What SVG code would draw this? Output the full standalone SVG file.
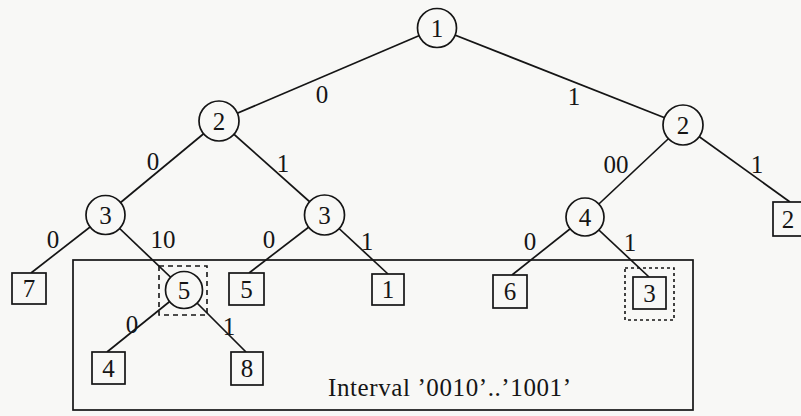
<svg xmlns="http://www.w3.org/2000/svg" width="801" height="416" viewBox="0 0 801 416">
  <style>
    .edge { stroke: #151515; stroke-width: 1.7; fill: none; }
    .inner { fill: #f8f8f6; stroke: #151515; stroke-width: 1.7; }
    .leaf { fill: #f8f8f6; stroke: #151515; stroke-width: 1.7; }
    .mark-dash { fill: none; stroke: #151515; stroke-width: 1.6; stroke-dasharray: 5 4; }
    .mark-dot { fill: none; stroke: #151515; stroke-width: 1.6; stroke-dasharray: 3 3; }
    .frame { fill: none; stroke: #151515; stroke-width: 1.7; }
    .num { font-family: "Liberation Serif", "DejaVu Serif", serif; font-size: 25px; fill: #151515; text-anchor: middle; }
    .lbl { font-family: "Liberation Serif", "DejaVu Serif", serif; font-size: 25px; fill: #151515; text-anchor: middle; }
    .cap { font-family: "Liberation Serif", "DejaVu Serif", serif; font-size: 25px; fill: #151515; }
  </style>

  <rect x="0" y="0" width="801" height="416" fill="#f8f8f6"/>

  <!-- interval frame -->
  <g id="interval">
    <rect class="frame" x="73" y="260" width="620" height="150"/>
    <text class="cap" x="328" y="396" textLength="243" lengthAdjust="spacing">Interval ’0010’..’1001’</text>
  </g>

  <!-- connectors with their bit labels -->
  <g id="connectors">
    <line class="edge" x1="437" y1="28" x2="219" y2="121"/>
    <line class="edge" x1="437" y1="28" x2="683" y2="125"/>
    <line class="edge" x1="219" y1="121" x2="105.5" y2="215"/>
    <line class="edge" x1="219" y1="121" x2="324.5" y2="215"/>
    <line class="edge" x1="683" y1="125" x2="585" y2="217"/>
    <line class="edge" x1="683" y1="125" x2="790" y2="202"/>
    <line class="edge" x1="105.5" y1="215" x2="31" y2="273"/>
    <line class="edge" x1="105.5" y1="215" x2="184" y2="290"/>
    <line class="edge" x1="324.5" y1="215" x2="249" y2="273"/>
    <line class="edge" x1="324.5" y1="215" x2="388" y2="274"/>
    <line class="edge" x1="585" y1="217" x2="512" y2="275"/>
    <line class="edge" x1="585" y1="217" x2="649" y2="277"/>
    <line class="edge" x1="184" y1="290" x2="107" y2="352"/>
    <line class="edge" x1="184" y1="290" x2="246" y2="352"/>

    <text class="lbl" x="322" y="103">0</text>
    <text class="lbl" x="574" y="105">1</text>
    <text class="lbl" x="153" y="170">0</text>
    <text class="lbl" x="283" y="172">1</text>
    <text class="lbl" x="616" y="173">00</text>
    <text class="lbl" x="757" y="173">1</text>
    <text class="lbl" x="53" y="248">0</text>
    <text class="lbl" x="163" y="248">10</text>
    <text class="lbl" x="269" y="248">0</text>
    <text class="lbl" x="367" y="250">1</text>
    <text class="lbl" x="530" y="250">0</text>
    <text class="lbl" x="630" y="251">1</text>
    <text class="lbl" x="132" y="333">0</text>
    <text class="lbl" x="229" y="335">1</text>
  </g>

  <!-- inner (branching) nodes -->
  <g id="n-root">
    <circle class="inner" cx="437" cy="28" r="19.5"/>
    <text class="num" x="437" y="37">1</text>
  </g>
  <g id="n-0">
    <circle class="inner" cx="219" cy="121" r="20"/>
    <text class="num" x="219" y="130">2</text>
  </g>
  <g id="n-1">
    <circle class="inner" cx="683" cy="125" r="20"/>
    <text class="num" x="683" y="134">2</text>
  </g>
  <g id="n-00">
    <circle class="inner" cx="105.5" cy="215" r="19.5"/>
    <text class="num" x="105.5" y="224">3</text>
  </g>
  <g id="n-01">
    <circle class="inner" cx="324.5" cy="215" r="20"/>
    <text class="num" x="324.5" y="224">3</text>
  </g>
  <g id="n-100">
    <circle class="inner" cx="585" cy="217" r="19"/>
    <text class="num" x="585" y="226">4</text>
  </g>
  <g id="n-0010">
    <rect class="mark-dash" x="159" y="266" width="48" height="49"/>
    <circle class="inner" cx="184" cy="290" r="18.5"/>
    <text class="num" x="184" y="299">5</text>
  </g>

  <!-- leaves -->
  <g id="leaf-7">
    <rect class="leaf" x="12" y="273" width="34" height="31"/>
    <text class="num" x="29" y="297">7</text>
  </g>
  <g id="leaf-5">
    <rect class="leaf" x="229" y="273" width="35" height="32"/>
    <text class="num" x="246.5" y="298">5</text>
  </g>
  <g id="leaf-1">
    <rect class="leaf" x="372" y="274" width="32" height="31"/>
    <text class="num" x="388" y="298">1</text>
  </g>
  <g id="leaf-6">
    <rect class="leaf" x="493" y="275" width="34" height="33"/>
    <text class="num" x="510" y="300">6</text>
  </g>
  <g id="leaf-3">
    <rect class="mark-dot" x="625" y="268" width="49" height="52"/>
    <rect class="leaf" x="633" y="277" width="33" height="32"/>
    <text class="num" x="649.5" y="302">3</text>
  </g>
  <g id="leaf-2">
    <rect class="leaf" x="773" y="202" width="34" height="34"/>
    <text class="num" x="788" y="228">2</text>
  </g>
  <g id="leaf-4">
    <rect class="leaf" x="92" y="352" width="33" height="32"/>
    <text class="num" x="108.5" y="377">4</text>
  </g>
  <g id="leaf-8">
    <rect class="leaf" x="231" y="352" width="32" height="33"/>
    <text class="num" x="247" y="377">8</text>
  </g>
</svg>
